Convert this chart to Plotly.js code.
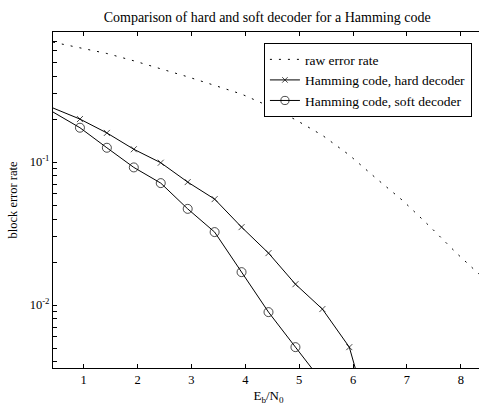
<!DOCTYPE html>
<html>
<head>
<meta charset="utf-8">
<script src="https://cdn.plot.ly/plotly-3.0.1.min.js"></script>
<style>
  html, body { margin: 0; padding: 0; overflow: hidden; background: #fff; }
  #chart { width: 492px; height: 405px; }
</style>
</head>
<body>
<div id="chart"></div>
<script>
// ---- data ----
const ebn0Coded = [0.43, 0.93, 1.43, 1.93, 2.43, 2.93, 3.43, 3.93, 4.43, 4.93, 5.43, 5.93, 6.43];
const hardBlockErr = [0.239, 0.200, 0.160, 0.123, 0.099, 0.0725, 0.0551, 0.0351, 0.0231, 0.0140, 0.00938, 0.00508, 0.0011];
const ebn0Soft = [0.43, 0.93, 1.43, 1.93, 2.43, 2.93, 3.43, 3.93, 4.43, 4.93, 5.43];
const softBlockErr = [0.224, 0.174, 0.126, 0.0918, 0.0713, 0.0471, 0.0324, 0.0170, 0.00893, 0.00508, 0.0029];
const ebn0Raw = [0.43, 0.93, 1.43, 1.93, 2.43, 2.93, 3.43, 3.93, 4.43, 4.93, 5.43, 5.93, 6.43, 6.93, 7.43, 7.93, 8.43];
const rawBlockErr = [0.690, 0.632, 0.575, 0.511, 0.452, 0.395, 0.344, 0.299, 0.247, 0.198, 0.154, 0.112, 0.0769, 0.0535, 0.0353, 0.0229, 0.0153];
const xTickVals = [1, 2, 3, 4, 5, 6, 7, 8];
const yMajorVals = [0.01, 0.1];
const yMajorText = ['10<sup>-2</sup>', '10<sup>-1</sup>'];
const yMinorVals = [0.004, 0.005, 0.006, 0.007, 0.008, 0.009, 0.02, 0.03, 0.04, 0.05, 0.06, 0.07, 0.08, 0.09, 0.2, 0.3, 0.4, 0.5, 0.6, 0.7, 0.8];
const seriesNames = ['raw error rate', 'Hamming code, hard decoder', 'Hamming code, soft decoder'];
const titleText = 'Comparison of hard and soft decoder for a Hamming code';

const xRange = [0.43, 8.43];
const inRange = (v, s) => (v > xRange[0] + 1e-9 && v < xRange[1]) ? s : 0;

const serif = 'Liberation Serif, Times New Roman, serif';

const traces = [
  {
    x: ebn0Raw, y: rawBlockErr, name: seriesNames[0], type: 'scatter', mode: 'lines',
    line: { color: '#000', width: 1, dash: '2px,7px' }
  },
  {
    x: ebn0Coded, y: hardBlockErr, name: seriesNames[1], type: 'scatter', mode: 'lines+markers',
    line: { color: '#000', width: 1 },
    marker: { symbol: 'x-thin-open', size: ebn0Coded.map(v => inRange(v, 6)), color: '#000', line: { color: '#000', width: 1 } }
  },
  {
    x: ebn0Soft, y: softBlockErr, name: seriesNames[2], type: 'scatter', mode: 'lines+markers',
    line: { color: '#000', width: 1 },
    marker: { symbol: 'circle-open', size: ebn0Soft.map(v => inRange(v, 9)), color: '#000', line: { color: '#000', width: 1 } }
  }
];

const layout = {
  width: 492, height: 405,
  margin: { l: 53, r: 8, t: 32, b: 37 },
  paper_bgcolor: '#fff', plot_bgcolor: '#fff',
  font: { family: serif, size: 12, color: '#000' },
  title: { text: titleText, x: 0.543, xref: 'container', y: 0.958, yanchor: 'middle', font: { family: serif, size: 14, color: '#000' } },
  showlegend: true,
  legend: {
    x: 0.972, y: 0.967, xanchor: 'right', yanchor: 'top',
    bgcolor: '#fff', bordercolor: '#000', borderwidth: 1,
    font: { family: serif, size: 13.5, color: '#000' },
    itemwidth: 30
  },
  xaxis: {
    range: xRange, showgrid: false, zeroline: false,
    showline: true, linecolor: '#000', linewidth: 1, mirror: 'allticks',
    ticks: 'inside', ticklen: 4, tickcolor: '#000',
    tickmode: 'array', tickvals: xTickVals, ticktext: xTickVals.map(String),
    tickfont: { family: serif, size: 12.5 },
    title: { text: 'E<sub>b</sub>/N<sub>0</sub>', font: { family: serif, size: 13 }, standoff: 9 }
  },
  yaxis: {
    type: 'log', range: [-2.44, -0.09], showgrid: false, zeroline: false,
    showline: true, linecolor: '#000', linewidth: 1, mirror: 'allticks',
    ticks: 'inside', ticklen: 4, tickcolor: '#000',
    tickmode: 'array', tickvals: yMajorVals, ticktext: yMajorText,
    minor: { tickmode: 'array', tickvals: yMinorVals, ticks: 'inside', ticklen: 4, tickcolor: '#000', showgrid: false },
    tickfont: { family: serif, size: 12.5 },
    title: { text: 'block error rate', font: { family: serif, size: 12.5 }, standoff: 9 }
  }
};

Plotly.newPlot('chart', traces, layout, { staticPlot: true, displayModeBar: false });
</script>
</body>
</html>
